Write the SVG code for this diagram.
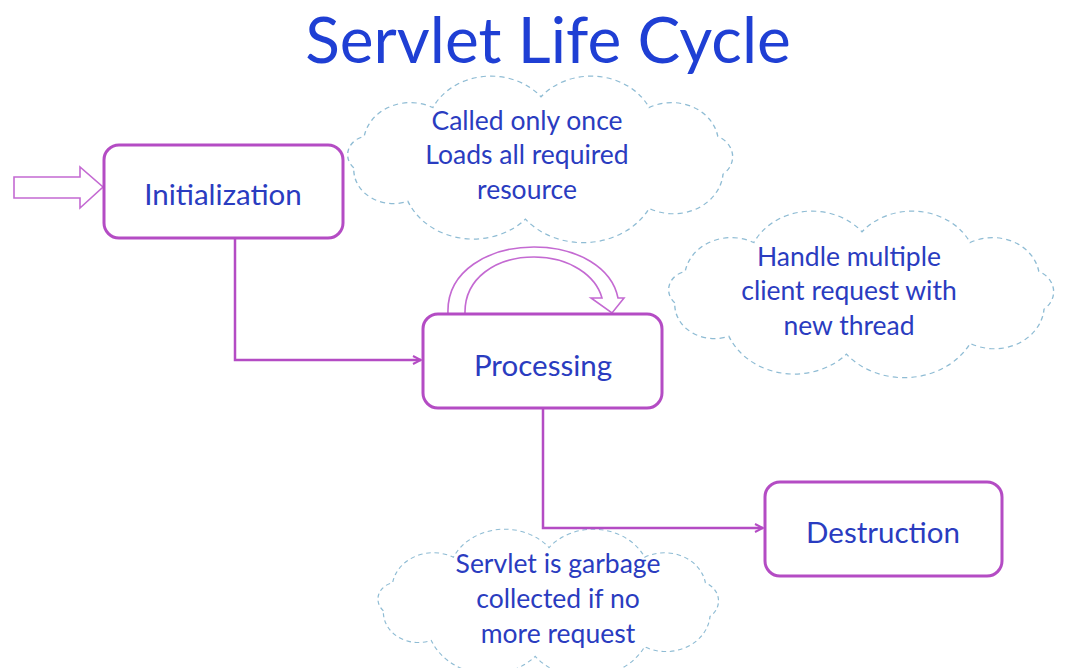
<svg xmlns="http://www.w3.org/2000/svg" width="1068" height="668" viewBox="0 0 1068 668">
  <style>
    .title { font-family: Lato, "Open Sans", "Liberation Sans", sans-serif; font-size: 64px; fill: #1f3fd4; text-anchor: middle; }
    .box { fill: #ffffff; stroke: #b44cc4; stroke-width: 3; }
    .label { font-family: Lato, "Open Sans", "Liberation Sans", sans-serif; font-size: 29.5px; fill: #2a3cc0; text-anchor: middle; }
    .note { font-family: Lato, "Open Sans", "Liberation Sans", sans-serif; font-size: 26.5px; fill: #2a3cc0; text-anchor: middle; }
    .cloud { fill: #ffffff; stroke: #8fbcd4; stroke-width: 1.3; stroke-dasharray: 5 4; }
    .flow { fill: none; stroke: #b44cc4; stroke-width: 2.5; }
    .hollow { fill: #ffffff; stroke: #c46ad2; stroke-width: 1.6; stroke-linejoin: miter; }
  </style>
  <defs>
    <marker id="head" viewBox="0 0 10 10" refX="9" refY="5" markerWidth="4" markerHeight="4" orient="auto" markerUnits="strokeWidth">
      <path d="M1,1 L9,5 L1,9" fill="none" stroke="#b44cc4" stroke-width="2"/>
    </marker>
    <!-- puffy cloud outline centred on the origin -->
    <path id="cloudShape" d="M -180 11
      A 21 21 0 0 1 -170 -24
      A 45 45 0 0 1 -104 -56
      A 62 62 0 0 1 0 -68
      A 62 62 0 0 1 104 -56
      A 45 45 0 0 1 170 -24
      A 25 25 0 0 1 175 18
      A 48 48 0 0 1 104 56
      A 72 72 0 0 1 -15 68
      A 68 68 0 0 1 -128 48
      A 38 38 0 0 1 -180 11 Z"/>
  </defs>

  <rect width="1068" height="668" fill="#ffffff"/>

  <text class="title" x="548" y="63">Servlet Life Cycle</text>

  <!-- thought clouds -->
  <g id="note-init">
    <use href="#cloudShape" class="cloud" transform="translate(541,158) scale(1.04,0.9)"/>
    <text class="note" x="527" y="130">Called only once</text>
    <text class="note" x="527" y="164">Loads all required</text>
    <text class="note" x="527" y="199">resource</text>
  </g>
  <g id="note-processing">
    <use href="#cloudShape" class="cloud" transform="translate(862,293) scale(1.04,0.9)"/>
    <text class="note" x="849" y="266">Handle multiple</text>
    <text class="note" x="849" y="300">client request with</text>
    <text class="note" x="849" y="335">new thread</text>
  </g>
  <g id="note-destruction">
    <use href="#cloudShape" class="cloud" transform="translate(549,602) scale(0.92,0.8)"/>
    <text class="note" x="558" y="573">Servlet is garbage</text>
    <text class="note" x="558" y="608">collected if no</text>
    <text class="note" x="558" y="643">more request</text>
  </g>

  <!-- connectors -->
  <g id="connectors">
    <path class="hollow" d="M 14 177 L 80 177 L 80 167 L 103 187 L 80 208 L 80 198 L 14 198 Z"/>
    <path class="flow" d="M 235 238 L 235 360 L 421 360" marker-end="url(#head)"/>
    <path class="flow" d="M 543 408 L 543 528 L 763 528" marker-end="url(#head)"/>
    <path class="hollow" d="M 448 314 C 446 270 490 247 534 247 C 578 247 612 268 618 298 L 624 298 L 612 313 L 591 298 L 602 298 C 596 276 570 257 534 257 C 496 257 464 278 465 314"/>
  </g>

  <!-- states -->
  <g id="node-initialization">
    <rect class="box" x="104" y="145" width="239" height="93" rx="15"/>
    <text class="label" x="223" y="205">Initialization</text>
  </g>
  <g id="node-processing">
    <rect class="box" x="423" y="314" width="239" height="94" rx="15"/>
    <text class="label" x="543" y="376">Processing</text>
  </g>
  <g id="node-destruction">
    <rect class="box" x="765" y="482" width="237" height="94" rx="15"/>
    <text class="label" x="883" y="543">Destruction</text>
  </g>
</svg>
